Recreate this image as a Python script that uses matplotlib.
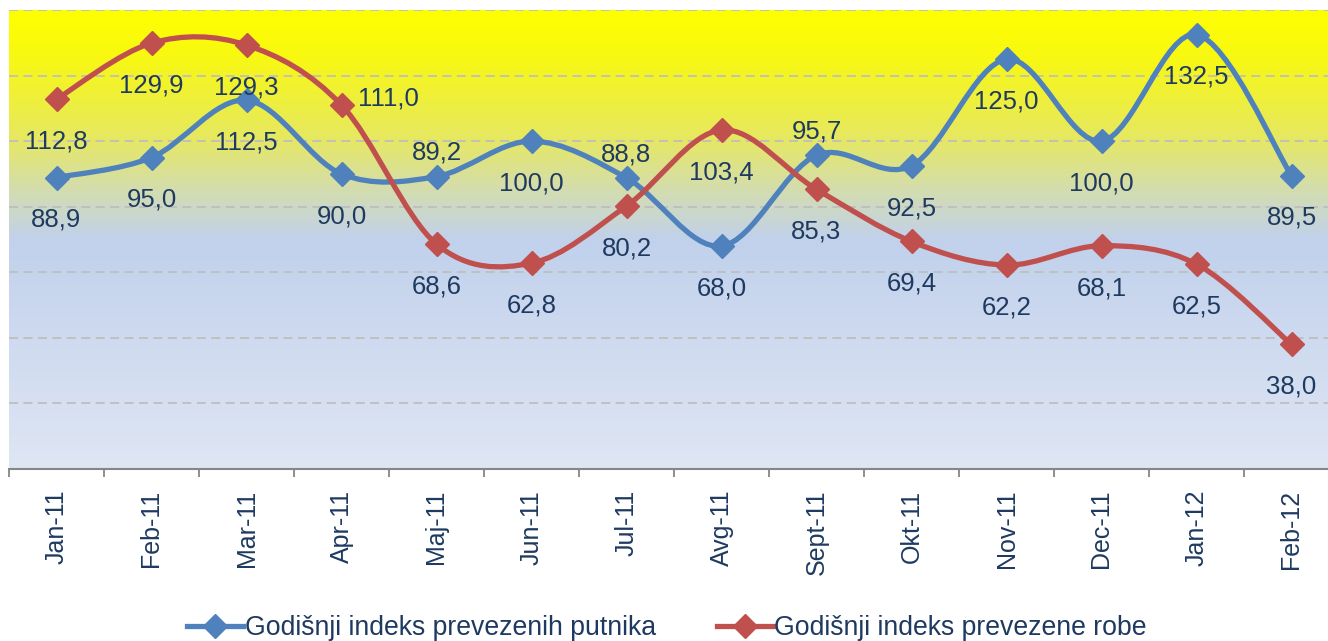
import numpy as np
import matplotlib
matplotlib.use('Agg')
import matplotlib.pyplot as plt
from matplotlib.path import Path
from matplotlib.patches import PathPatch
from matplotlib.colors import LinearSegmentedColormap
from matplotlib.lines import Line2D

plt.rcParams['font.family'] = ['Liberation Sans', 'DejaVu Sans']

# ---- data ----
months = ['Jan-11', 'Feb-11', 'Mar-11', 'Apr-11', 'Maj-11', 'Jun-11', 'Jul-11',
          'Avg-11', 'Sept-11', 'Okt-11', 'Nov-11', 'Dec-11', 'Jan-12', 'Feb-12']
putnici = [88.9, 95.0, 112.5, 90.0, 89.2, 100.0, 88.8, 68.0, 95.7, 92.5, 125.0, 100.0, 132.5, 89.5]
roba = [112.8, 129.9, 129.3, 111.0, 68.6, 62.8, 80.2, 103.4, 85.3, 69.4, 62.2, 68.1, 62.5, 38.0]
series_names = ['Godišnji indeks prevezenih putnika', 'Godišnji indeks prevezene robe']

# label placement per point
pos_putnici = ['b', 'b', 'b', 'b', 'a', 'b', 'a', 'b', 'a', 'b', 'b', 'b', 'b', 'b']
pos_roba = ['b', 'b', 'b', 'r', 'b', 'b', 'b', 'b', 'b', 'b', 'b', 'b', 'b', 'b']

BLUE = '#4F81BD'
RED = '#C0504D'
TXT = '#1F3A60'

W, H = 1328, 641
fig = plt.figure(figsize=(W / 100, H / 100), dpi=100)
ax = fig.add_axes([9 / W, 1 - 469 / H, 1330 / W, 459 / H])

n = len(months)
x = np.arange(n)
ax.set_xlim(-0.5, n - 0.5)
ax.set_ylim(0, 140)

# background gradient
cmap = LinearSegmentedColormap.from_list('bg', [
    (0.0, '#FFFF00'), (0.10, '#F8F812'), (0.28, '#E6E862'), (0.40, '#D2DCB4'),
    (0.50, '#C1D1EC'), (1.0, '#DFE6F4')])
grad = np.linspace(0, 1, 256).reshape(-1, 1)
ax.imshow(grad, extent=[-0.5, n - 0.5, 0, 140], aspect='auto', cmap=cmap,
          origin='upper', zorder=0, interpolation='bilinear')

# gridlines
for gy in range(20, 141, 20):
    ax.axhline(gy, color='#BEBEBE', lw=1.3, ls=(0, (5, 3)), zorder=1)


def smooth_path(xs, ys):
    pts = np.column_stack([xs, ys]).astype(float)
    verts = [pts[0]]
    codes = [Path.MOVETO]
    for i in range(len(pts) - 1):
        p0 = pts[i - 1] if i > 0 else pts[i]
        p1 = pts[i]
        p2 = pts[i + 1]
        p3 = pts[i + 2] if i + 2 < len(pts) else pts[i + 1]
        c1 = p1 + (p2 - p0) / 6.0
        c2 = p2 - (p3 - p1) / 6.0
        verts += [c1, c2, p2]
        codes += [Path.CURVE4] * 3
    return Path(verts, codes)


for vals, col in [(putnici, BLUE), (roba, RED)]:
    ax.add_patch(PathPatch(smooth_path(x, vals), facecolor='none', edgecolor=col,
                           lw=3.8, capstyle='round', joinstyle='round', zorder=3))
    ax.plot(x, vals, ls='none', marker='D', ms=12, color=col, mec=col, zorder=4)


def label(vals, poss):
    for xi, v, p in zip(x, vals, poss):
        s = f'{v:.1f}'.replace('.', ',')
        if p == 'b':
            ax.annotate(s, (xi, v), xytext=(0, -35.5), textcoords='offset points',
                        ha='center', va='baseline', fontsize=18.5, color=TXT, zorder=5)
        elif p == 'a':
            ax.annotate(s, (xi, v), xytext=(0, 12), textcoords='offset points',
                        ha='center', va='baseline', fontsize=18.5, color=TXT, zorder=5)
        else:
            ax.annotate(s, (xi, v), xytext=(12, 0), textcoords='offset points',
                        ha='left', va='baseline', fontsize=18.5, color=TXT, zorder=5)


label(putnici, pos_putnici)
label(roba, pos_roba)

# axes styling
for sp in ['left', 'right', 'top']:
    ax.spines[sp].set_visible(False)
ax.spines['bottom'].set_color('#868686')
ax.spines['bottom'].set_linewidth(1.5)
ax.spines['bottom'].set_zorder(6)
ax.set_yticks([])
ax.set_xticks(x)
ax.set_xticklabels(months, rotation=90, fontsize=18, color=TXT)
ax.set_xticks(np.arange(n + 1) - 0.5, minor=True)
ax.tick_params(axis='x', which='major', length=0, pad=15)
ax.tick_params(axis='x', which='minor', length=6, width=1.3, color='#868686')

handles = [Line2D([], [], color=BLUE, lw=3.8, marker='D', ms=12),
           Line2D([], [], color=RED, lw=3.8, marker='D', ms=12)]
leg = fig.legend(handles, series_names, loc='center', ncol=2,
                 bbox_to_anchor=(667 / W, 1 - 628 / H), frameon=False,
                 fontsize=19.2, handlelength=2.1, handletextpad=0.05,
                 columnspacing=2.3, borderaxespad=0)
for t in leg.get_texts():
    t.set_color(TXT)

fig.savefig('out.png', dpi=100)
